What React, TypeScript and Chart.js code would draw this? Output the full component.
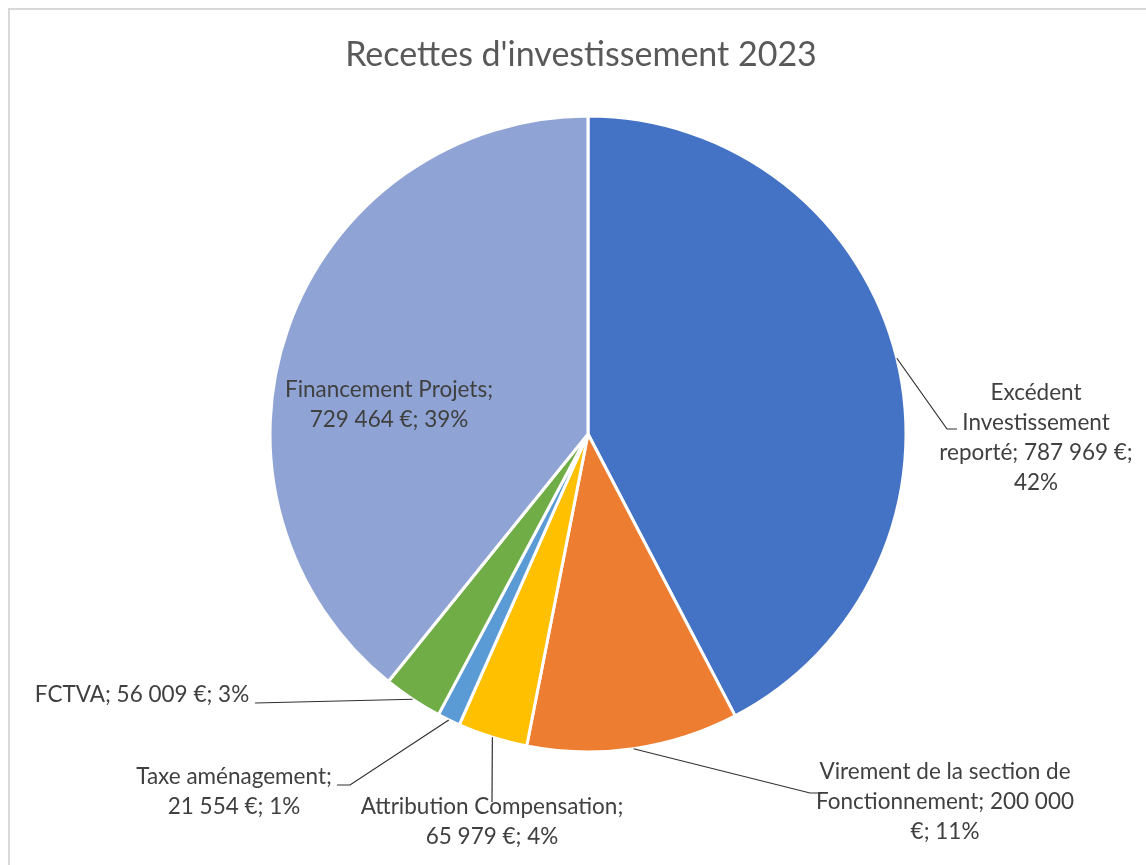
import React, { useEffect, useRef } from "react";
import { Chart, registerables } from "chart.js";

Chart.register(...registerables);

const chartTitle = "Recettes d'investissement 2023";
const categories = [
  "Excédent Investissement reporté",
  "Virement de la section de Fonctionnement",
  "Attribution Compensation",
  "Taxe aménagement",
  "FCTVA",
  "Financement Projets",
];
const values = [787969, 200000, 65979, 21554, 56009, 729464];
const colors = ["#4472C4", "#ED7D31", "#FFC000", "#5B9BD5", "#70AD47", "#8FA3D4"];

// label placement relative to pie centre (layout only)
const labelLayout = [
  { dx: 448, dy: -41, maxW: 205, elbow: [359, -5], end: 369 },
  { dx: 357, dy: 338, maxW: 275, elbow: [222, 359], end: 234 },
  { dx: -96, dy: 373, maxW: 295, elbow: [-96, 368], end: -96 },
  { dx: -354, dy: 343, maxW: 215, elbow: [-238, 351], end: -251 },
  { dx: -446, dy: 261, maxW: 280, elbow: [-333, 269], end: -333 },
  { dx: -199, dy: -44, maxW: 235, elbow: null as null | number[], end: 0 },
];

const FONT = "Lato, 'Open Sans', sans-serif";
const LABEL_SIZE = 22.5;
const LINE_H = 30;

function fmtValue(v: number): string {
  const s = String(Math.round(v)).replace(/\B(?=(\d{3})+(?!\d))/g, "\u00A0");
  return s + " €";
}

function wrap(ctx: CanvasRenderingContext2D, text: string, maxW: number): string[] {
  const words = text.split(" ");
  const lines: string[] = [];
  let cur = "";
  for (const w of words) {
    const test = cur ? cur + " " + w : w;
    if (ctx.measureText(test).width > maxW && cur) {
      lines.push(cur);
      cur = w;
    } else cur = test;
  }
  if (cur) lines.push(cur);
  return lines;
}

const labelPlugin = {
  id: "excelLabels",
  afterDatasetsDraw(chart: any) {
    const ctx: CanvasRenderingContext2D = chart.ctx;
    const meta = chart.getDatasetMeta(0);
    const total = values.reduce((a, b) => a + b, 0);
    ctx.save();
    meta.data.forEach((arc: any, i: number) => {
      const { x, y, startAngle, endAngle, outerRadius } = arc.getProps(
        ["x", "y", "startAngle", "endAngle", "outerRadius"],
        true
      );
      const lay = labelLayout[i];
      const mid = (startAngle + endAngle) / 2;
      const px = x + Math.cos(mid) * outerRadius;
      const py = y + Math.sin(mid) * outerRadius;
      if (lay.elbow) {
        ctx.strokeStyle = "#303030";
        ctx.lineWidth = 1.2;
        ctx.beginPath();
        ctx.moveTo(px, py);
        ctx.lineTo(x + lay.elbow[0], y + lay.elbow[1]);
        ctx.lineTo(x + lay.end, y + lay.elbow[1]);
        ctx.stroke();
      }
      const pct = Math.round((values[i] / total) * 100);
      const text = categories[i] + "; " + fmtValue(values[i]) + "; " + pct + "%";
      ctx.font = `${LABEL_SIZE}px ${FONT}`;
      ctx.fillStyle = "#404040";
      ctx.textAlign = "center";
      ctx.textBaseline = "middle";
      const lines = wrap(ctx, text, lay.maxW);
      lines.forEach((ln, k) => {
        ctx.fillText(ln, x + lay.dx, y + lay.dy + k * LINE_H);
      });
    });
    // title
    ctx.font = `34px ${FONT}`;
    ctx.fillStyle = "#595959";
    ctx.textAlign = "center";
    ctx.textBaseline = "middle";
    ctx.fillText(chartTitle, chart.width / 2 + 3, 45);
    ctx.restore();
  },
};

export default function App() {
  const ref = useRef<HTMLCanvasElement>(null);
  useEffect(() => {
    if (!ref.current) return;
    const chart = new Chart(ref.current, {
      type: "pie",
      data: {
        labels: categories,
        datasets: [
          {
            data: values,
            backgroundColor: colors,
            borderColor: "#ffffff",
            borderWidth: 3,
            radius: 318,
          } as any,
        ],
      },
      options: {
        responsive: false,
        animation: false,
        events: [],
        layout: { padding: { left: 100, right: 80, top: 50, bottom: 57 } },
        plugins: {
          legend: { display: false },
          title: { display: false },
          tooltip: { enabled: false },
        },
      },
      plugins: [labelPlugin],
    });
    return () => chart.destroy();
  }, []);
  return (
    <div
      style={{
        position: "fixed",
        left: 8,
        top: 8,
        width: 1146,
        height: 865,
        borderTop: "2px solid #D9D9D9",
        borderLeft: "2px solid #D9D9D9",
        background: "#fff",
      }}
    >
      <canvas ref={ref} width={1136} height={855} style={{ display: "block" }} />
    </div>
  );
}
